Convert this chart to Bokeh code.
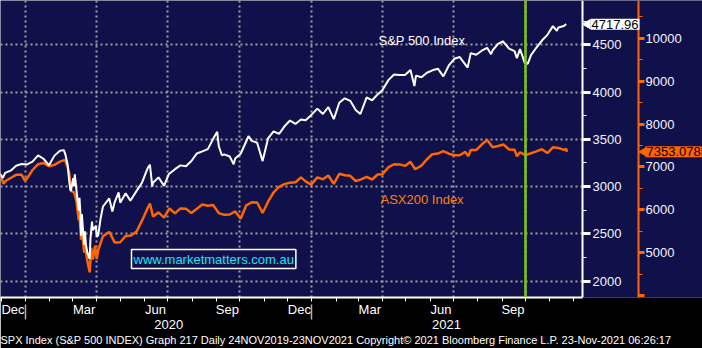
import math
import pandas as pd
from bokeh.plotting import figure
from bokeh.models import (Range1d, LinearAxis, DatetimeAxis, FixedTicker, SingleIntervalTicker,
                          DatetimeTickFormatter, Grid, Span, Label, Title, BoxAnnotation)
from bokeh.embed import file_html
from bokeh.resources import INLINE

# ---------------- data ----------------
spx_dates = ["2019-11-25","2019-11-29","2019-12-03","2019-12-06","2019-12-13","2019-12-20","2019-12-27",
 "2020-01-03","2020-01-10","2020-01-17","2020-01-24","2020-01-31","2020-02-07","2020-02-14","2020-02-19",
 "2020-02-21","2020-02-24","2020-02-25","2020-02-27","2020-02-28","2020-03-02","2020-03-03","2020-03-04",
 "2020-03-06","2020-03-09","2020-03-10","2020-03-11","2020-03-12","2020-03-13","2020-03-16","2020-03-17",
 "2020-03-18","2020-03-20","2020-03-23","2020-03-24","2020-03-26","2020-03-27","2020-03-31","2020-04-01",
 "2020-04-03","2020-04-06","2020-04-09","2020-04-17","2020-04-21","2020-04-24","2020-04-29","2020-05-01",
 "2020-05-08","2020-05-14","2020-05-15","2020-05-22","2020-05-29","2020-06-05","2020-06-08","2020-06-11",
 "2020-06-12","2020-06-19","2020-06-26","2020-07-02","2020-07-10","2020-07-17","2020-07-24","2020-07-31",
 "2020-08-07","2020-08-14","2020-08-21","2020-08-28","2020-09-02","2020-09-04","2020-09-08","2020-09-11",
 "2020-09-18","2020-09-23","2020-09-25","2020-10-02","2020-10-09","2020-10-12","2020-10-16","2020-10-23",
 "2020-10-30","2020-11-06","2020-11-13","2020-11-20","2020-11-27","2020-12-04","2020-12-11","2020-12-18",
 "2020-12-24","2020-12-31","2021-01-08","2021-01-15","2021-01-22","2021-01-29","2021-02-05","2021-02-12",
 "2021-02-19","2021-02-26","2021-03-04","2021-03-12","2021-03-19","2021-03-26","2021-04-01","2021-04-09",
 "2021-04-16","2021-04-23","2021-04-30","2021-05-07","2021-05-12","2021-05-14","2021-05-21","2021-05-28",
 "2021-06-04","2021-06-11","2021-06-18","2021-06-25","2021-07-02","2021-07-09","2021-07-19","2021-07-23",
 "2021-07-30","2021-08-06","2021-08-13","2021-08-18","2021-08-20","2021-08-27","2021-09-02","2021-09-10",
 "2021-09-17","2021-09-20","2021-09-24","2021-09-30","2021-10-04","2021-10-08","2021-10-15","2021-10-22",
 "2021-10-29","2021-11-05","2021-11-10","2021-11-12","2021-11-19","2021-11-22"]
spx_values = [3133,3141,3093,3146,3169,3221,3240,
 3235,3265,3330,3295,3226,3328,3380,3386,
 3338,3226,3128,2979,2954,3090,3003,3130,
 2972,2747,2882,2741,2481,2711,2386,2529,
 2398,2305,2237,2447,2630,2541,2585,2470,
 2489,2664,2790,2875,2737,2837,2940,2831,
 2930,2852,2864,2955,3044,3194,3232,3002,
 3041,3098,3009,3130,3185,3225,3216,3271,
 3351,3373,3397,3508,3580,3427,3332,3341,
 3319,3237,3298,3348,3477,3534,3484,3465,
 3270,3510,3585,3558,3638,3699,3663,3709,
 3703,3756,3825,3768,3841,3714,3887,3934,
 3907,3811,3768,3943,3913,3975,4020,4129,
 4185,4180,4181,4233,4063,4174,4156,4204,
 4230,4247,4166,4281,4352,4370,4258,4412,
 4395,4437,4468,4400,4442,4509,4537,4459,
 4433,4358,4455,4308,4300,4391,4471,4545,
 4605,4697,4646,4683,4698,4717.96]

asx_dates = ["2019-11-25","2019-11-29","2019-12-04","2019-12-06","2019-12-13","2019-12-20","2019-12-27",
 "2019-12-31","2020-01-03","2020-01-10","2020-01-17","2020-01-24","2020-01-31","2020-02-07","2020-02-14",
 "2020-02-20","2020-02-21","2020-02-24","2020-02-26","2020-02-27","2020-02-28","2020-03-03","2020-03-06",
 "2020-03-09","2020-03-10","2020-03-12","2020-03-13","2020-03-16","2020-03-17","2020-03-18","2020-03-20",
 "2020-03-23","2020-03-24","2020-03-25","2020-03-27","2020-03-30","2020-04-01","2020-04-03","2020-04-09",
 "2020-04-17","2020-04-24","2020-05-01","2020-05-08","2020-05-15","2020-05-22","2020-05-29","2020-06-05",
 "2020-06-08","2020-06-12","2020-06-19","2020-06-26","2020-07-03","2020-07-10","2020-07-17","2020-07-24",
 "2020-07-31","2020-08-07","2020-08-14","2020-08-21","2020-08-28","2020-09-04","2020-09-11","2020-09-18",
 "2020-09-25","2020-10-02","2020-10-09","2020-10-16","2020-10-23","2020-10-30","2020-11-06","2020-11-13",
 "2020-11-20","2020-11-27","2020-12-04","2020-12-11","2020-12-18","2020-12-24","2020-12-31","2021-01-08",
 "2021-01-15","2021-01-22","2021-01-29","2021-02-05","2021-02-12","2021-02-19","2021-02-26","2021-03-05",
 "2021-03-12","2021-03-19","2021-03-26","2021-04-01","2021-04-09","2021-04-16","2021-04-23","2021-04-30",
 "2021-05-07","2021-05-13","2021-05-21","2021-05-28","2021-06-04","2021-06-11","2021-06-18","2021-06-25",
 "2021-07-02","2021-07-09","2021-07-16","2021-07-20","2021-07-23","2021-07-30","2021-08-06","2021-08-13",
 "2021-08-20","2021-08-27","2021-09-03","2021-09-10","2021-09-17","2021-09-20","2021-09-24","2021-10-01",
 "2021-10-08","2021-10-15","2021-10-22","2021-10-29","2021-11-05","2021-11-12","2021-11-19","2021-11-22",
 "2021-11-23"]
asx_values = [6850,6846,6606,6666,6743,6816,6821,
 6684,6733,6929,7065,7091,7017,7048,7125,
 7162,7139,6978,6844,6657,6441,6406,6216,
 5760,5875,5304,5539,5002,5294,5067,4817,
 4546,4842,5114,4842,5165,4855,5068,5388,
 5487,5243,5245,5391,5405,5497,5755,6036,
 6149,5848,5942,5818,6033,5919,6034,6024,
 5928,6028,6127,6097,6112,5925,5885,5893,
 5965,5792,6102,6177,6172,5928,6190,6405,
 6539,6601,6635,6643,6757,6665,6588,6757,
 6715,6800,6607,6840,6806,6794,6673,6711,
 6767,6708,6824,6829,6995,7063,7060,7025,
 7120,6947,7030,7179,7296,7312,7369,7308,
 7273,7272,7350,7252,7394,7393,7523,7628,
 7461,7489,7522,7406,7403,7248,7342,7276,
 7320,7363,7415,7324,7457,7443,7397,7420,
 7353.078]

month_label_dates = ["2019-12-16","2020-03-16","2020-06-15","2020-09-15",
                     "2020-12-16","2021-03-16","2021-06-15","2021-09-15"]
year_label_dates = ["2020-07-02","2021-06-22"]
year_bound_dates = ["2020-01-01","2021-01-01"]
quarter_dates = ["2020-01-01","2020-04-01","2020-07-01","2020-10-01",
                 "2021-01-01","2021-04-01","2021-07-01","2021-10-01"]
marker_date = "2021-10-01"
spx_last = 4717.96
asx_last = 7353.078
spx_name = "S&P 500 Index"
asx_name = "ASX200 Index"
footer = ("SPX Index (S&P 500 INDEX) Graph 217  Daily 24NOV2019-23NOV2021  "
          "Copyright\u00a9 2021 Bloomberg Finance L.P.  23-Nov-2021 06:26:17")

# ---------------- helpers ----------------
EPOCH = pd.Timestamp("1970-01-01")
def ms(s):
    return (pd.Timestamp(s) - EPOCH).total_seconds() * 1000.0

W, H = 702, 348
CW, FH = 582, 297          # chart area width (up to the first axis), frame height
x_start, x_split = ms("2019-11-30 01:00"), ms("2021-12-12 20:00")
x_end = x_start + W / CW * (x_split - x_start)
spx_lo, spx_hi = 1828, 4968
asx_lo, asx_hi = 3959, 10878

def xpx(px):
    return x_start + px / CW * (x_split - x_start)

def ypx(py):
    return spx_hi - py / FH * (spx_hi - spx_lo)

month_bounds = [ms(d) for d in pd.date_range("2019-12-01", "2021-12-01", freq="MS")]

NAVY = "#10104a"
ORANGE = "#ff6600"
FONT = "Liberation Sans"

p = figure(width=W, height=H, x_range=Range1d(x_start, x_end), y_range=Range1d(spx_lo, spx_hi),
           x_axis_type=None, y_axis_type=None, output_backend="svg", toolbar_location=None,
           min_border_left=0, min_border_top=0, min_border_right=0, min_border_bottom=51,
           background_fill_color=NAVY, border_fill_color="black", outline_line_color=None)
p.extra_y_ranges = {"asx": Range1d(asx_lo, asx_hi)}

p.add_layout(Grid(dimension=0, ticker=FixedTicker(ticks=[ms(d) for d in quarter_dates]),
                  grid_line_color="#a0a0a0", grid_line_dash="2 3", grid_line_width=2))
p.add_layout(Grid(dimension=1, ticker=SingleIntervalTicker(interval=500),
                  grid_line_color="#a0a0a0", grid_line_dash="2 3", grid_line_width=2))
# axis area to the right of the chart: plain navy (hides the grid there)
p.add_layout(BoxAnnotation(left=x_split, fill_color=NAVY, fill_alpha=1, line_color=None, level="glyph"))

p.add_layout(Span(location=ms(marker_date), dimension="height", line_color="#7cc80c", line_width=2.5))

p.line([ms(d) for d in asx_dates], asx_values, y_range_name="asx", line_color=ORANGE, line_width=2.5)
p.line([ms(d) for d in spx_dates], spx_values, line_color="white", line_width=2)

# right axes, pinned at fixed positions
spx_axis = LinearAxis(ticker=SingleIntervalTicker(interval=500, num_minor_ticks=2), fixed_location=x_split,
                      axis_line_color="white", axis_line_width=2,
                      major_tick_line_color="white", major_tick_out=8, major_tick_in=0, major_tick_line_width=3,
                      minor_tick_line_color="white", minor_tick_out=4, minor_tick_in=0,
                      major_label_text_color="#f2f5ff", major_label_text_font_size="13px",
                      major_label_text_font=FONT, major_label_standoff=2)
p.add_layout(spx_axis, "right")
asx_axis = LinearAxis(y_range_name="asx", ticker=SingleIntervalTicker(interval=1000, num_minor_ticks=2),
                      fixed_location=xpx(638),
                      axis_line_color=ORANGE, axis_line_width=2,
                      major_tick_line_color=ORANGE, major_tick_out=6, major_tick_in=0, major_tick_line_width=3,
                      minor_tick_line_color=ORANGE, minor_tick_out=4, minor_tick_in=0,
                      major_label_text_color="#f2f5ff", major_label_text_font_size="13px",
                      major_label_text_font=FONT, major_label_standoff=1,
                      major_label_overrides={4000: ""})
p.add_layout(asx_axis, "right")

# bottom axes
mfmt = DatetimeTickFormatter(days="%b", months="%b", years="%b", hours="%b", hourmin="%b")
month_axis = DatetimeAxis(ticker=FixedTicker(ticks=[ms(d) for d in month_label_dates], minor_ticks=month_bounds),
                          formatter=mfmt, bounds=(x_start, x_split),
                          axis_line_color="white", axis_line_width=2,
                          major_tick_out=0, major_tick_in=0,
                          minor_tick_line_color="white", minor_tick_out=4, minor_tick_in=0,
                          major_label_text_color="white", major_label_text_font_size="13px",
                          major_label_text_font=FONT, major_label_standoff=0)
p.add_layout(month_axis, "below")
yfmt = DatetimeTickFormatter(days="%Y", months="%Y", years="%Y", hours="%Y", hourmin="%Y")
year_axis = DatetimeAxis(ticker=FixedTicker(ticks=[ms(d) for d in year_label_dates],
                                            minor_ticks=[ms(d) for d in year_bound_dates]),
                         formatter=yfmt, axis_line_color=None,
                         major_tick_out=0, major_tick_in=0,
                         minor_tick_line_color="#b0b0b0", minor_tick_out=0, minor_tick_in=15,
                         minor_tick_line_width=1.5,
                         major_label_text_color="white", major_label_text_font_size="13px",
                         major_label_text_font=FONT, major_label_standoff=0)
p.add_layout(year_axis, "below")

p.add_layout(Title(text=footer, text_color="white", text_font_size="11px", text_font=FONT,
                   text_font_style="normal", align="left", standoff=0, offset=0), "below")

# annotations
p.add_layout(Label(x=xpx(378), y=ypx(47), text=spx_name, text_color="white",
                   text_font_size="13px", text_font=FONT))
p.add_layout(Label(x=xpx(380), y=ypx(206), text=asx_name, text_color="#ff8000",
                   text_font_size="13px", text_font=FONT))
p.add_layout(Label(x=xpx(131), y=ypx(268), text="www.marketmatters.com.au", text_color="#18e4f4",
                   text_font_size="13px", text_font=FONT, border_line_color="white", border_line_width=1.5,
                   background_fill_color=NAVY, padding=2))

# last-value tags
p.scatter([xpx(587)], [spx_last], marker="triangle", angle=math.pi / 2, size=9,
          fill_color="white", line_color="white", level="overlay")
p.add_layout(Label(x=xpx(590), y=spx_last, text=f"{spx_last:.2f}", text_color="black",
                   text_font_size="13px", text_font=FONT, text_baseline="middle", level="overlay",
                   background_fill_color="white", padding=1))
p.scatter([xpx(643)], [asx_last], y_range_name="asx", marker="triangle", angle=math.pi / 2, size=8,
          fill_color=ORANGE, line_color=ORANGE, level="overlay")
p.add_layout(Label(x=xpx(645), y=asx_last, y_range_name="asx", text=f"{asx_last:.3f}", text_color="black",
                   text_font_size="13px", text_font=FONT, text_baseline="middle", level="overlay",
                   background_fill_color=ORANGE, padding=1))

open("out.html", "w").write(file_html(p, INLINE))
